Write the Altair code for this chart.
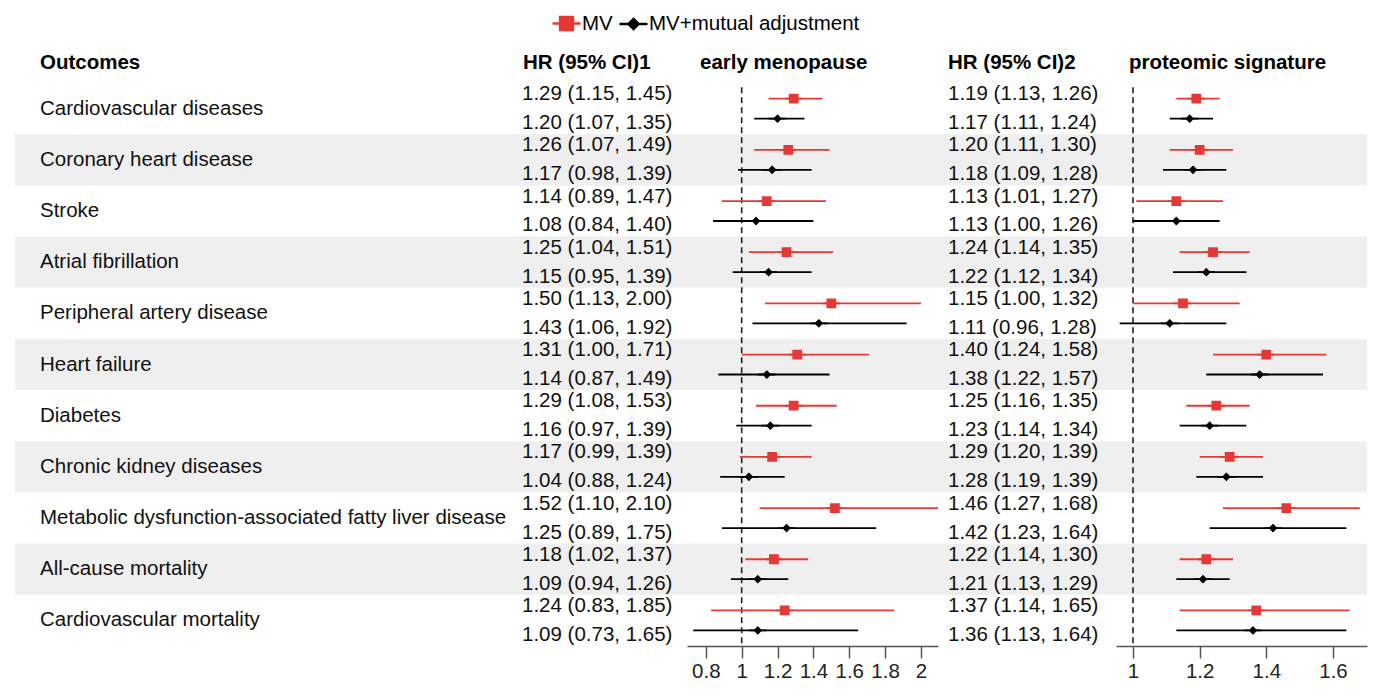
import altair as alt
import pandas as pd

outcomes = [
    "Cardiovascular diseases", "Coronary heart disease", "Stroke", "Atrial fibrillation",
    "Peripheral artery disease", "Heart failure", "Diabetes", "Chronic kidney diseases",
    "Metabolic dysfunction-associated fatty liver disease", "All-cause mortality",
    "Cardiovascular mortality",
]
series_names = ["MV", "MV+mutual adjustment"]
headers = ["Outcomes", "HR (95% CI)1", "early menopause", "HR (95% CI)2", "proteomic signature"]

em_mv_hr = [1.29, 1.26, 1.14, 1.25, 1.50, 1.31, 1.29, 1.17, 1.52, 1.18, 1.24]
em_mv_lo = [1.15, 1.07, 0.89, 1.04, 1.13, 1.00, 1.08, 0.99, 1.10, 1.02, 0.83]
em_mv_hi = [1.45, 1.49, 1.47, 1.51, 2.00, 1.71, 1.53, 1.39, 2.10, 1.37, 1.85]
em_adj_hr = [1.20, 1.17, 1.08, 1.15, 1.43, 1.14, 1.16, 1.04, 1.25, 1.09, 1.09]
em_adj_lo = [1.07, 0.98, 0.84, 0.95, 1.06, 0.87, 0.97, 0.88, 0.89, 0.94, 0.73]
em_adj_hi = [1.35, 1.39, 1.40, 1.39, 1.92, 1.49, 1.39, 1.24, 1.75, 1.26, 1.65]

ps_mv_hr = [1.19, 1.20, 1.13, 1.24, 1.15, 1.40, 1.25, 1.29, 1.46, 1.22, 1.37]
ps_mv_lo = [1.13, 1.11, 1.01, 1.14, 1.00, 1.24, 1.16, 1.20, 1.27, 1.14, 1.14]
ps_mv_hi = [1.26, 1.30, 1.27, 1.35, 1.32, 1.58, 1.35, 1.39, 1.68, 1.30, 1.65]
ps_adj_hr = [1.17, 1.18, 1.13, 1.22, 1.11, 1.38, 1.23, 1.28, 1.42, 1.21, 1.36]
ps_adj_lo = [1.11, 1.09, 1.00, 1.12, 0.96, 1.22, 1.14, 1.19, 1.23, 1.13, 1.13]
ps_adj_hi = [1.24, 1.28, 1.26, 1.34, 1.28, 1.57, 1.34, 1.39, 1.64, 1.29, 1.64]

em_ticks = [0.8, 1, 1.2, 1.4, 1.6, 1.8, 2]
ps_ticks = [1, 1.2, 1.4, 1.6]


def build(hr_mv, lo_mv, hi_mv, hr_adj, lo_adj, hi_adj):
    recs = []
    for i, o in enumerate(outcomes):
        for s, hr, lo, hi in ((series_names[0], hr_mv[i], lo_mv[i], hi_mv[i]),
                              (series_names[1], hr_adj[i], lo_adj[i], hi_adj[i])):
            recs.append(dict(row=i, outcome=o, series=s, hr=hr, lo=lo, hi=hi,
                             label=f"{hr:.2f} ({lo:.2f}, {hi:.2f})"))
    return pd.DataFrame(recs)


em_df = build(em_mv_hr, em_mv_lo, em_mv_hi, em_adj_hr, em_adj_lo, em_adj_hi)
ps_df = build(ps_mv_hr, ps_mv_lo, ps_mv_hi, ps_adj_hr, ps_adj_lo, ps_adj_hi)
rows_df = pd.DataFrame({"row": list(range(len(outcomes))), "outcome": outcomes})

H = 638
Y_SCALE = alt.Scale(domain=[-1.467, 11], reverse=True, nice=False, zero=False)
RED = "#E53935"
BLACK = "#000000"
BAND = "#EFEFEF"
FONT = "Liberation Sans"
FS = 20.5

color_scale = alt.Scale(domain=series_names, range=[RED, BLACK])
shape_scale = alt.Scale(
    domain=series_names,
    range=["M-1,0H1M-0.46,-0.46H0.46V0.46H-0.46Z",
           "M-1,0H1M0,-0.36L0.36,0L0,0.36L-0.36,0Z"],
)
legend_spec = alt.Legend(
    title=None, orient="none", legendX=536, legendY=0, direction="horizontal",
    symbolSize=784, symbolStrokeWidth=2.5, labelFontSize=FS, labelFont=FONT,
    labelOffset=0, columnPadding=1, padding=0, labelColor="#000000", labelLimit=500,
)
TEXT_OFF = "(datum.series === 'MV' ? -0.283 : 0.283)"
MARK_OFF = "(datum.series === 'MV' ? -0.195 : 0.195)"


def bands(width):
    return alt.Chart(rows_df).transform_filter("datum.row % 2 === 1").transform_calculate(
        top="datum.row", bot="datum.row + 1"
    ).mark_rect(color=BAND).encode(
        x=alt.value(0), x2=alt.value(width),
        y=alt.Y("top:Q", scale=Y_SCALE, axis=None), y2="bot:Q",
    )


def header(text, x, bold=True):
    return alt.Chart(pd.DataFrame({"h": [text]})).mark_text(
        align="left", baseline="middle", fontSize=FS, fontWeight="bold" if bold else "normal",
        font=FONT, color="#000000",
    ).encode(text="h:N", x=alt.value(x), y=alt.datum(-0.387, scale=Y_SCALE, axis=None))


def hr_text(df, x):
    return alt.Chart(df).transform_calculate(
        yy=f"datum.row + 0.5 + {TEXT_OFF}"
    ).mark_text(align="left", baseline="middle", fontSize=FS, font=FONT, color="#111111").encode(
        text="label:N", x=alt.value(x), y=alt.Y("yy:Q", scale=Y_SCALE, axis=None),
    )


def forest(df, domain, ticks, title, width):
    xs = alt.Scale(domain=domain, nice=False, zero=False)
    axis = alt.Axis(values=ticks, format="~g", labelFontSize=FS, labelFont=FONT, tickSize=12,
                    tickColor="#555555", domainColor="#555555", tickWidth=1.5, domainWidth=1.5,
                    grid=False, title=None, labelColor="#222222", labelPadding=3, labelFlush=False)
    ref = alt.Chart(pd.DataFrame({"ref": [1.0]})).mark_rule(
        strokeDash=[6, 4], color="#222222", strokeWidth=1.6
    ).encode(
        x=alt.X("ref:Q", scale=xs, axis=axis),
        y=alt.datum(0.08, scale=Y_SCALE, axis=None), y2=alt.datum(11),
    )
    ci = alt.Chart(df).transform_calculate(
        yy=f"datum.row + 0.5 + {MARK_OFF}"
    ).mark_rule(strokeWidth=1.8, clip=True).encode(
        x=alt.X("lo:Q", scale=xs, axis=axis), x2="hi:Q",
        y=alt.Y("yy:Q", scale=Y_SCALE, axis=None),
        stroke=alt.Stroke("series:N", scale=color_scale, legend=legend_spec),
    )
    pts = alt.Chart(df).transform_calculate(
        yy=f"datum.row + 0.5 + {MARK_OFF}"
    ).mark_point(filled=True, size=300, strokeWidth=1.8, opacity=1).encode(
        x=alt.X("hr:Q", scale=xs, axis=axis),
        y=alt.Y("yy:Q", scale=Y_SCALE, axis=None),
        fill=alt.Fill("series:N", scale=color_scale, legend=legend_spec),
        stroke=alt.Stroke("series:N", scale=color_scale, legend=legend_spec),
        shape=alt.Shape("series:N", scale=shape_scale, legend=legend_spec),
    )
    return alt.layer(bands(width), ref, ci, pts, header(title, 13)).properties(width=width, height=H)


WA, WB, WC, WD = 672, 251, 178, 251

outcome_text = alt.Chart(rows_df).transform_calculate(yy="datum.row + 0.5").mark_text(
    align="left", baseline="middle", fontSize=FS, font=FONT, color="#111111"
).encode(text="outcome:N", x=alt.value(25), y=alt.Y("yy:Q", scale=Y_SCALE, axis=None))

panel_a = alt.layer(
    bands(WA), outcome_text, hr_text(em_df, 507), header(headers[0], 25), header(headers[1], 508)
).properties(width=WA, height=H)
panel_b = forest(em_df, [0.695, 2.095], em_ticks, headers[2], WB)
panel_c = alt.layer(bands(WC), hr_text(ps_df, 10), header(headers[3], 10)).properties(width=WC, height=H)
panel_d = forest(ps_df, [0.949, 1.702], ps_ticks, headers[4], WD)

chart = alt.hconcat(panel_a, panel_b, panel_c, panel_d, spacing=0).resolve_scale(
    fill="shared", stroke="shared", shape="shared"
).properties(
    padding={"left": 7, "top": 0, "right": 2, "bottom": 2}
).configure(font=FONT).configure_view(stroke=None)

chart.save("out.html", embed_options={"renderer": "svg", "actions": False})
